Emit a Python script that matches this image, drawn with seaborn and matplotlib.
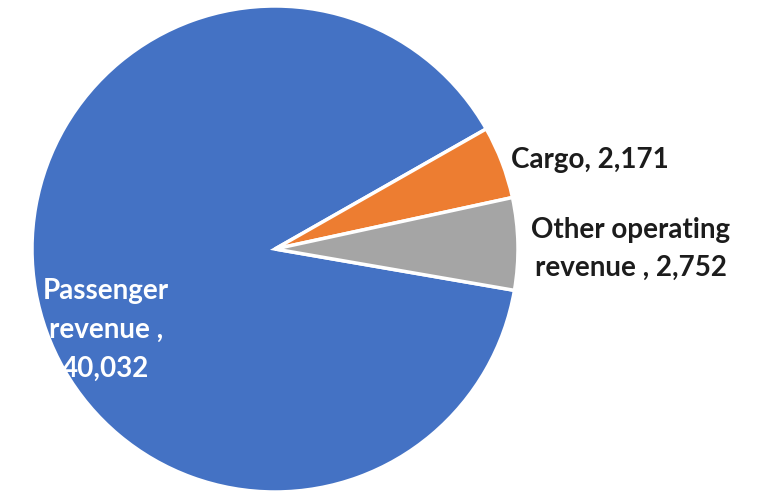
import matplotlib
matplotlib.use("Agg")
import matplotlib.pyplot as plt
import seaborn as sns

# Revenue breakdown
categories = ["Passenger revenue ", "Cargo", "Other operating revenue "]
values = [40032, 2171, 2752]
label_texts = ["Passenger\nrevenue ,\n40,032", "Cargo, 2,171", "Other operating\nrevenue , 2,752"]
colors = ["#4472C4", "#ED7D31", "#A5A5A5"]

sns.set_theme(style="white")
plt.rcParams["font.family"] = ["Lato", "DejaVu Sans"]

W, H, DPI = 757, 492, 100
fig = plt.figure(figsize=(W / DPI, H / DPI), dpi=DPI)
cx, cy, r = 275, 249, 243
ax = fig.add_axes([(cx - r) / W, (H - cy - r) / H, 2 * r / W, 2 * r / H])

ax.pie(values, colors=colors, startangle=-9.8, counterclock=False,
       radius=1.0, wedgeprops=dict(edgecolor="white", linewidth=2.5))
ax.set_xlim(-1, 1)
ax.set_ylim(-1, 1)
ax.set_aspect("equal")
ax.axis("off")

def to_data(px, py):
    return (px - cx) / r, (cy - py) / r

# label placement (pixel anchors converted to data units)
label_pos = [to_data(106, 330), to_data(511, 160), to_data(631, 249)]
label_ha = ["center", "left", "center"]
label_color = ["white", "#1c1c1c", "#1c1c1c"]
label_spacing = [1.6, 1.5, 1.55]
for txt, (x, y), ha, c, ls in zip(label_texts, label_pos, label_ha, label_color, label_spacing):
    ax.text(x, y, txt, ha=ha, va="center", fontsize=20, fontweight="bold",
            color=c, linespacing=ls, clip_on=False)

fig.savefig("out.png", dpi=DPI)
